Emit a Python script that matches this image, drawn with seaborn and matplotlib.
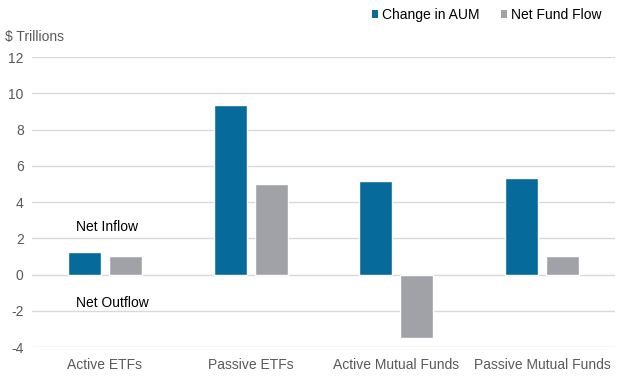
import matplotlib
matplotlib.use("Agg")
import matplotlib.pyplot as plt
import seaborn as sns
import pandas as pd
from matplotlib.patches import Patch

categories = ["Active ETFs", "Passive ETFs", "Active Mutual Funds", "Passive Mutual Funds"]
series_names = ["Change in AUM", "Net Fund Flow"]
change_in_aum = [1.27, 9.36, 5.17, 5.34]
net_fund_flow = [1.05, 5.0, -3.52, 1.05]
colors = ["#066a9b", "#a0a2a8"]
y_ticks = [-4, -2, 0, 2, 4, 6, 8, 10, 12]

df = pd.DataFrame({
    "category": categories * 2,
    "series": [series_names[0]] * 4 + [series_names[1]] * 4,
    "value": change_in_aum + net_fund_flow,
})

sns.set_theme(style="white")
plt.rcParams["font.family"] = ["Liberation Sans", "DejaVu Sans"]

fig = plt.figure(figsize=(6.19, 3.81), dpi=100)
ax = fig.add_axes([0.0517, 0.0892, 0.9418, 0.7608])

sns.barplot(data=df, x="category", y="value", hue="series", order=categories,
            hue_order=series_names, palette=colors, width=0.563, gap=0.2,
            saturation=1, ax=ax, legend=False)

ax.set_ylim(-4, 12)
ax.set_xlim(-0.5, 3.5)
ax.set_yticks(y_ticks)
ax.set_yticklabels([str(t) for t in y_ticks])
ax.yaxis.grid(True, color="#d9d9d9", linewidth=1)
ax.set_axisbelow(True)
for s in ax.spines.values():
    s.set_visible(False)
ax.tick_params(axis="both", length=0, labelsize=10, labelcolor="#595959")
ax.tick_params(axis="y", pad=6)
ax.tick_params(axis="x", pad=8)
ax.set_xlabel("")
ax.set_ylabel("")

ax.text(-0.2, 2.6, "Net Inflow", fontsize=10, color="#000000", va="center", ha="left")
ax.text(-0.2, -1.55, "Net Outflow", fontsize=10, color="#000000", va="center", ha="left")

fig.text(5/619, 1 - 37/381, "$ Trillions", fontsize=10, color="#595959", va="center", ha="left")

handles = [Patch(facecolor=c, edgecolor="none") for c in colors]
fig.legend(handles, series_names, loc="center right", bbox_to_anchor=(614/619, 1 - 15/381),
           ncol=2, frameon=False, fontsize=10, handlelength=0.45, handleheight=0.45,
           handletextpad=0.3, columnspacing=1.5, labelcolor="#000000")

fig.savefig("out.png", dpi=100)
